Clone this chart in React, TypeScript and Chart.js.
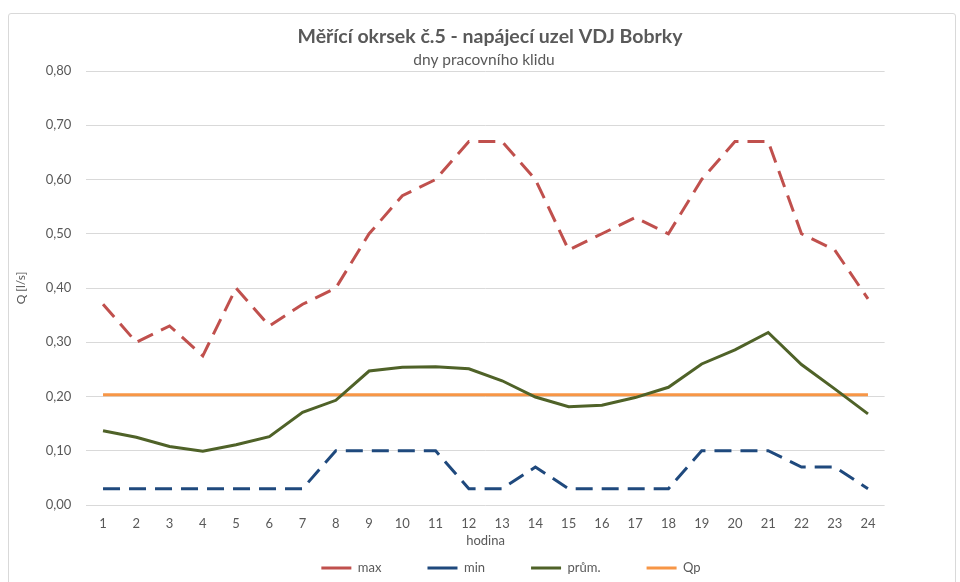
import React, { useEffect, useRef } from "react";
import { Chart, registerables } from "chart.js";

Chart.register(...registerables);

const hours = ["1","2","3","4","5","6","7","8","9","10","11","12","13","14","15","16","17","18","19","20","21","22","23","24"];
const maxValues = [0.37,0.30,0.33,0.275,0.40,0.33,0.37,0.40,0.50,0.57,0.60,0.67,0.67,0.60,0.47,0.50,0.53,0.50,0.60,0.67,0.67,0.50,0.47,0.38];
const minValues = [0.03,0.03,0.03,0.03,0.03,0.03,0.03,0.10,0.10,0.10,0.10,0.03,0.03,0.07,0.03,0.03,0.03,0.03,0.10,0.10,0.10,0.07,0.07,0.03];
const avgValues = [0.137,0.125,0.108,0.099,0.111,0.126,0.171,0.193,0.247,0.254,0.255,0.251,0.229,0.199,0.181,0.184,0.198,0.217,0.260,0.286,0.318,0.259,0.214,0.168];
const qpValues = [0.203,0.203,0.203,0.203,0.203,0.203,0.203,0.203,0.203,0.203,0.203,0.203,0.203,0.203,0.203,0.203,0.203,0.203,0.203,0.203,0.203,0.203,0.203,0.203];
const seriesNames = ["max", "min", "prům.", "Qp"];
const seriesColors = ["#C0504D", "#1F497D", "#4F6228", "#F79646"];
const titleText = "Měřící okrsek č.5 - napájecí uzel VDJ Bobrky";
const subtitleText = "dny pracovního klidu";
const xTitle = "hodina";
const yTitle = "Q [l/s]";

const FONT = "Lato, 'Liberation Sans', sans-serif";
const TEXT = "#595959";
const LEGEND_PAD = 46;

const boxPlacer = {
  id: "boxPlacer",
  afterLayout(chart: any) {
    const lg = chart.legend;
    if (lg) {
      const dx = 511 - (lg.left + lg.right) / 2;
      lg.left += dx;
      lg.right += dx;
      lg.top = 568 - 6.5 - LEGEND_PAD;
      lg.bottom = lg.top + LEGEND_PAD + 13 + 10;
    }
    chart.boxes.forEach((b: any) => {
      const t = b && b.options && b.options.text;
      if (t === titleText || t === subtitleText) {
        const target = t === titleText ? 490 : 484;
        const dx = target - (b.left + b.right) / 2;
        b.left += dx;
        b.right += dx;
      }
    });
  },
};

export default function App() {
  const ref = useRef<HTMLCanvasElement>(null);
  useEffect(() => {
    if (!ref.current) return;
    const values = [maxValues, minValues, avgValues, qpValues];
    const chart = new Chart(ref.current, {
      type: "line",
      data: {
        labels: hours,
        datasets: values.map((v, i) => ({
          label: seriesNames[i],
          data: v,
          borderColor: seriesColors[i],
          backgroundColor: seriesColors[i],
          borderWidth: 3,
          borderDash: i < 2 ? [17, 9] : [],
          pointRadius: 0,
          tension: 0,
          fill: false,
        })),
      },
      options: {
        animation: false,
        responsive: false,
        layout: { padding: { left: 0, right: 75.4, top: 0, bottom: 1.5 } },
        plugins: {
          tooltip: { enabled: false },
          title: {
            display: true,
            text: titleText,
            color: TEXT,
            font: { family: FONT, size: 19.5, weight: "bold" },
            padding: { top: 25.3, bottom: 0 },
          },
          subtitle: {
            display: true,
            text: subtitleText,
            color: TEXT,
            font: { family: FONT, size: 15.5 },
            padding: { top: 2, bottom: 1.7 },
          },
          legend: {
            position: "bottom",
            maxHeight: 25,
            labels: {
              color: TEXT,
              font: { family: FONT, size: 13 },
              boxWidth: 30,
              boxHeight: 3,
              padding: LEGEND_PAD,
              generateLabels: (c: any) =>
                c.data.datasets.map((d: any, i: number) => ({
                  text: d.label,
                  fillStyle: seriesColors[i],
                  strokeStyle: seriesColors[i],
                  lineWidth: 0,
                  lineDash: [],
                  hidden: false,
                  datasetIndex: i,
                  fontColor: TEXT,
                })),
            },
          },
        },
        scales: {
          x: {
            offset: true,
            grid: { display: false, drawTicks: false },
            border: { display: false },
            ticks: {
              color: TEXT,
              font: { family: FONT, size: 13 },
              padding: 11.5,
              maxRotation: 0,
            },
            title: {
              display: true,
              text: xTitle,
              color: TEXT,
              font: { family: FONT, size: 13 },
              padding: { top: 0, bottom: 6.7 },
            },
            afterFit: (s: any) => {
              s.height = 50.5;
            },
          },
          y: {
            min: 0,
            max: 0.8,
            grid: { color: "#D9D9D9", lineWidth: 1, drawTicks: false },
            border: { display: false },
            ticks: {
              stepSize: 0.1,
              color: TEXT,
              font: { family: FONT, size: 13 },
              padding: 15,
              callback: (v: any) => Number(v).toFixed(2).replace(".", ","),
            },
            title: {
              display: true,
              text: yTitle,
              color: TEXT,
              font: { family: FONT, size: 12 },
              padding: { top: 13.8, bottom: 0 },
            },
            afterFit: (s: any) => {
              s.width = 86.4;
            },
          },
        },
      },
      plugins: [boxPlacer],
    });
    return () => chart.destroy();
  }, []);

  return (
    <div style={{ position: "fixed", left: 0, top: 0, width: 960, height: 582, background: "#fff", overflow: "hidden" }}>
      <div
        style={{
          position: "absolute",
          left: 8,
          top: 13,
          width: 948,
          height: 600,
          border: "1px solid #D9D9D9",
          borderRadius: 3,
          boxSizing: "border-box",
        }}
      />
      <canvas ref={ref} width={960} height={582} style={{ position: "absolute", left: 0, top: 0, width: 960, height: 582 }} />
    </div>
  );
}
